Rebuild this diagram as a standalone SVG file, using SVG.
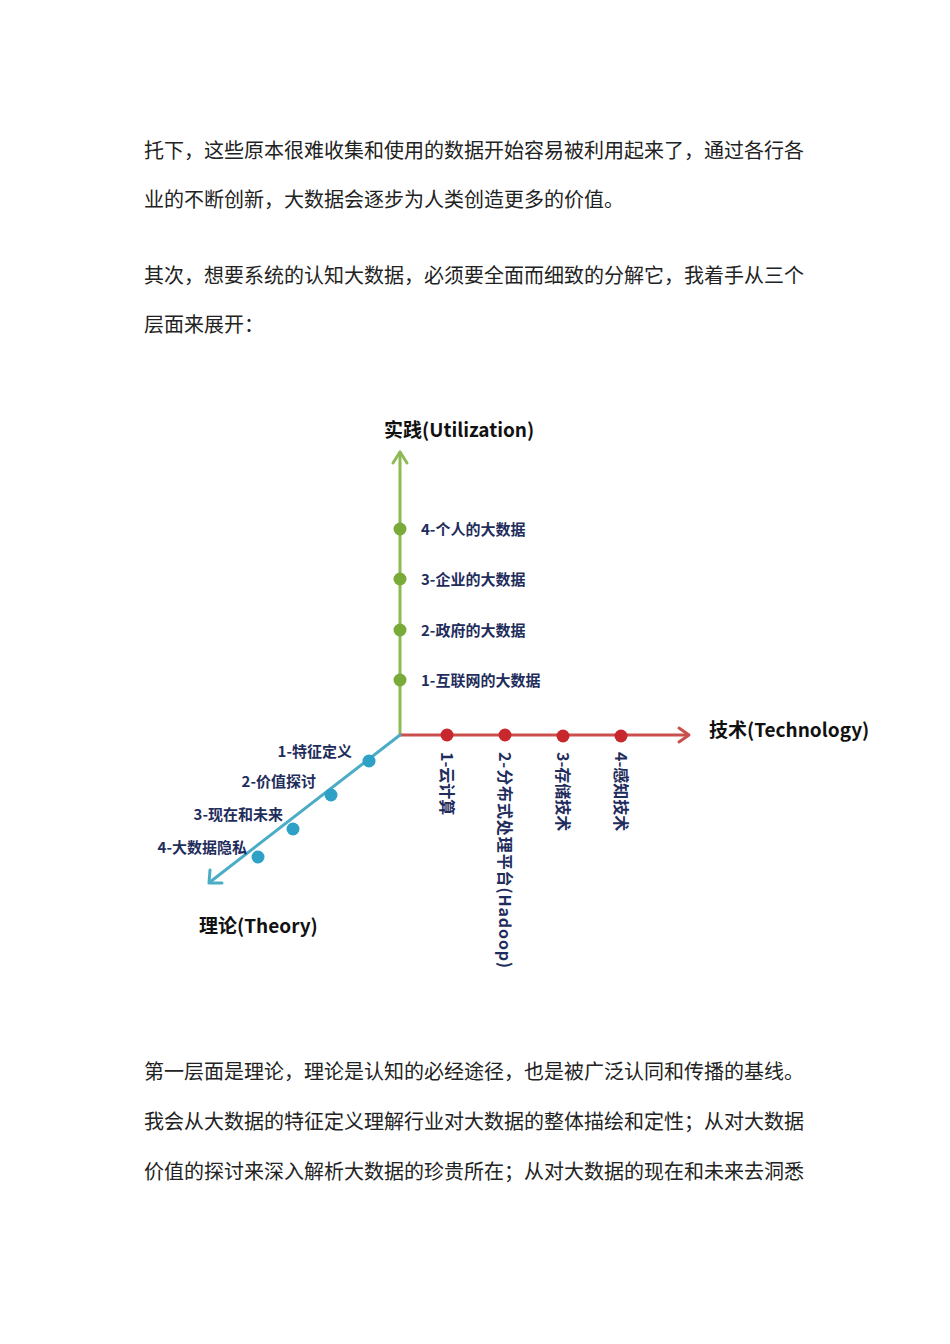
<svg xmlns="http://www.w3.org/2000/svg" width="950" height="1344" viewBox="0 0 950 1344">
<style>
.body{font-family:"Noto Sans CJK SC","Noto Sans",sans-serif;font-size:20px;fill:#222}
.ax{font-family:"Noto Sans CJK SC","Noto Sans",sans-serif;font-size:19px;font-weight:bold;fill:#111}
.it{font-family:"Noto Sans CJK SC","Noto Sans",sans-serif;font-size:15px;font-weight:bold;fill:#1f2d5c}
.vt{font-family:"Noto Sans CJK SC","Noto Sans",sans-serif;font-size:16px;font-weight:bold;fill:#1f2d5c}
.g{fill:#7aab3a}
.r{fill:#c8282d}
.b{fill:#2fa0c6}
</style>
<rect width="950" height="1344" fill="#fff"/>
<g id="text-top">
<text class="body" x="144" y="158">托下，这些原本很难收集和使用的数据开始容易被利用起来了，通过各行各</text>
<text class="body" x="144" y="207">业的不断创新，大数据会逐步为人类创造更多的价值。</text>
<text class="body" x="144" y="283">其次，想要系统的认知大数据，必须要全面而细致的分解它，我着手从三个</text>
<text class="body" x="144" y="332">层面来展开：</text>
</g>
<g id="connectors" fill="none" stroke-linecap="round" stroke-linejoin="round">
<path d="M400 735 V452" stroke="#8dba55" stroke-width="3"/>
<path d="M393 463 L400 452 L407 463" stroke="#8dba55" stroke-width="3"/>
<path d="M400 735 H688" stroke="#c9504d" stroke-width="3"/>
<path d="M679 728 L689 735 L679 742" stroke="#c9504d" stroke-width="3"/>
<path d="M400 735 L210 882" stroke="#4bacc6" stroke-width="3"/>
<path d="M210 870 L209 883 L222 883" stroke="#4bacc6" stroke-width="3"/>
</g>
<g id="axis-utilization"><text class="ax" x="384" y="437">实践(Utilization)</text></g>
<g id="axis-technology"><text class="ax" x="709" y="737">技术(Technology)</text></g>
<g id="axis-theory"><text class="ax" x="199" y="933">理论(Theory)</text></g>
<g id="u4"><circle class="g" cx="400" cy="529" r="6.5"/><text class="it" x="421" y="535">4-个人的大数据</text></g>
<g id="u3"><circle class="g" cx="400" cy="579" r="6.5"/><text class="it" x="421" y="585">3-企业的大数据</text></g>
<g id="u2"><circle class="g" cx="400" cy="630" r="6.5"/><text class="it" x="421" y="636">2-政府的大数据</text></g>
<g id="u1"><circle class="g" cx="400" cy="680" r="6.5"/><text class="it" x="421" y="686">1-互联网的大数据</text></g>
<g id="t1"><circle class="r" cx="447" cy="735" r="6.5"/><text class="vt" transform="translate(441 752) rotate(90)">1-云计算</text></g>
<g id="t2"><circle class="r" cx="505" cy="735" r="6.5"/><text class="vt" transform="translate(499 752) rotate(90)" letter-spacing="0.9">2-分布式处理平台(Hadoop)</text></g>
<g id="t3"><circle class="r" cx="563" cy="736" r="6.5"/><text class="vt" transform="translate(557 752) rotate(90)">3-存储技术</text></g>
<g id="t4"><circle class="r" cx="621" cy="736" r="6.5"/><text class="vt" transform="translate(615 752) rotate(90)">4-感知技术</text></g>
<g id="h1"><circle class="b" cx="369" cy="761" r="6.5"/><text class="it" x="352" y="757" text-anchor="end">1-特征定义</text></g>
<g id="h2"><circle class="b" cx="331" cy="795" r="6.5"/><text class="it" x="316" y="787" text-anchor="end">2-价值探讨</text></g>
<g id="h3"><circle class="b" cx="293" cy="829" r="6.5"/><text class="it" x="283" y="820" text-anchor="end">3-现在和未来</text></g>
<g id="h4"><circle class="b" cx="258" cy="857" r="6.5"/><text class="it" x="247" y="853" text-anchor="end">4-大数据隐私</text></g>
<g id="text-bottom">
<text class="body" x="144" y="1079">第一层面是理论，理论是认知的必经途径，也是被广泛认同和传播的基线。</text>
<text class="body" x="144" y="1129">我会从大数据的特征定义理解行业对大数据的整体描绘和定性；从对大数据</text>
<text class="body" x="144" y="1179">价值的探讨来深入解析大数据的珍贵所在；从对大数据的现在和未来去洞悉</text>
</g>
</svg>
